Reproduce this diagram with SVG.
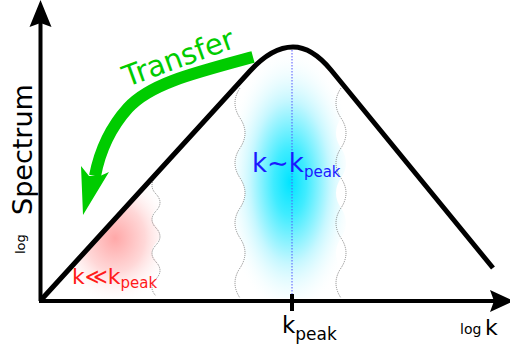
<svg xmlns="http://www.w3.org/2000/svg" width="510" height="350" viewBox="0 0 510 350">
<style>
text{font-family:"DejaVu Sans","Liberation Sans",sans-serif}
.wave{fill:none;stroke:#777;stroke-width:0.9;stroke-dasharray:1 1}
.axis{stroke:#000;stroke-width:4;fill:none}
</style>
<defs>
<radialGradient id="cyanG" cx="0.5" cy="0.5" r="0.5">
<stop offset="0" stop-color="#00e4ff"/>
<stop offset="0.25" stop-color="#40ecff"/>
<stop offset="0.6" stop-color="#c4f7ff"/>
<stop offset="1" stop-color="#ffffff" stop-opacity="0"/>
</radialGradient>
<radialGradient id="redG" cx="0.5" cy="0.5" r="0.5">
<stop offset="0" stop-color="#ffa8a8"/>
<stop offset="0.5" stop-color="#ffd8d8"/>
<stop offset="1" stop-color="#ffffff" stop-opacity="0"/>
</radialGradient>
<clipPath id="redClip">
<path d="M41,300 L156,175 q-8,8.5 0,17 t0,17 t0,17 t0,17 t0,17 t0,17 t0,17 L156,300 Z"/>
</clipPath>
<clipPath id="cyanClip">
<path d="M240,88 q-10,15 0,30 t0,30 t0,30 t0,30 t0,30 t0,30 t0,30 L341,298 q10,-15 0,-30 t0,-30 t0,-30 t0,-30 t0,-30 t0,-30 t0,-30 L331,70 Q312,47 293,47 Q272,47 250,71 Z"/>
</clipPath>
</defs>
<g id="shading">
<ellipse cx="290" cy="182" rx="66" ry="135" fill="url(#cyanG)" clip-path="url(#cyanClip)"/>
<ellipse cx="115" cy="238" rx="60" ry="68" fill="url(#redG)" clip-path="url(#redClip)"/>
</g>
<g id="guides">
<path class="wave" d="M240,88 q-10,15 0,30 t0,30 t0,30 t0,30 t0,30 t0,30 t0,30"/>
<path class="wave" d="M341,88 q-10,15 0,30 t0,30 t0,30 t0,30 t0,30 t0,30 t0,30"/>
<path class="wave" d="M156,177 q-8,8.5 0,17 t0,17 t0,17 t0,17 t0,17 t0,17 t0,17"/>
<line x1="292" y1="50" x2="292" y2="294" stroke="#5555ff" stroke-width="1" stroke-dasharray="1.5 1.5"/>
</g>
<g id="axes">
<line class="axis" x1="40.5" y1="301" x2="40.5" y2="22"/>
<path d="M40.5,0 L29.5,27 L40.5,23 L51.5,27 Z" fill="#000"/>
<line class="axis" x1="39" y1="301" x2="495" y2="301"/>
<path d="M514,301 L490,290 L494,301 L490,312 Z" fill="#000"/>
<line x1="292" y1="294" x2="292" y2="311" stroke="#000" stroke-width="4"/>
</g>
<g id="spectrum">
<path d="M41,300 L250,71 Q272,47 293,47 Q312,47 331,70 L493,268" fill="none" stroke="#000" stroke-width="5"/>
</g>
<g id="transfer">
<path d="M253,57 C190,74 150,84 128,108 C110,128 100,150 95,176" fill="none" stroke="#00cc00" stroke-width="12"/>
<path d="M83,215 L81,166 L89,176 L100,176 L109,172 Z" fill="#00cc00"/>
<text transform="translate(127,87) rotate(-20)" font-size="29" fill="#00cc00">Transfer</text>
</g>
<g id="labels">
<text transform="translate(32,215) rotate(-90)" font-size="27" fill="#000">Spectrum</text>
<text transform="translate(25,254) rotate(-90)" font-size="13" fill="#000">log</text>
<text x="252" y="172" font-size="26" fill="#1a1aff">k∼k<tspan font-size="15" dy="5">peak</tspan></text>
<text x="72" y="284" font-size="22" fill="#ff1a1a">k≪k<tspan font-size="15" dy="4">peak</tspan></text>
<text x="282" y="333" font-size="23" fill="#000">k<tspan font-size="17" dy="7">peak</tspan></text>
<text x="460" y="334" font-size="14" fill="#000">log</text>
<text x="485" y="335" font-size="22" fill="#000">k</text>
</g>
</svg>
